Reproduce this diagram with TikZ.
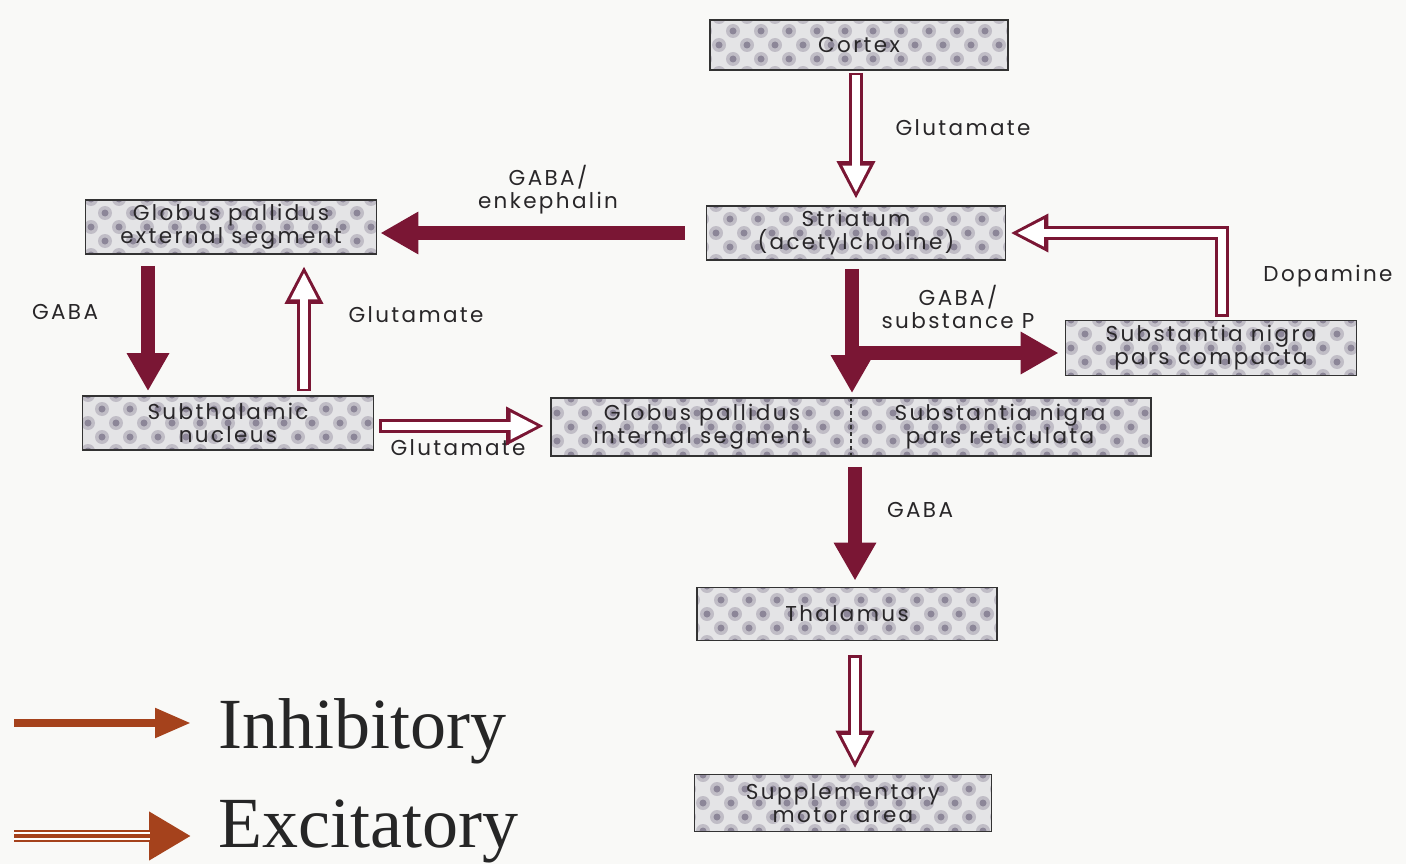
\documentclass[tikz,border=0pt]{standalone}
\usepackage{fontspec}
\setmainfont{Liberation Serif}
\newfontfamily\labfont[LetterSpace=11]{Poppins}
\usetikzlibrary{arrows.meta,calc}
\definecolor{maroon}{RGB}{122,22,52}
\definecolor{rust}{RGB}{165,66,28}
\definecolor{bgc}{RGB}{249,249,247}
\definecolor{boxbg}{RGB}{228,228,230}
\definecolor{blobout}{RGB}{192,189,198}
\definecolor{blobin}{RGB}{140,134,152}
\definecolor{txt}{RGB}{40,38,40}
\begin{document}
\begin{tikzpicture}[x=1pt,y=-1pt,
  lab/.style={font=\labfont\fontsize{21.5}{23}\selectfont, text=txt, align=center, inner sep=0pt},
  box/.style={draw=black!80, line width=1.8pt, fill=boxbg, lab,
    path picture={
      \foreach \j in {-3,...,3}{
        \foreach \i in {-14,...,14}{
          \fill[blobout] ($(path picture bounding box.center)+(\i*28+\j*14,\j*14)$) circle (7pt);
          \fill[blobin] ($(path picture bounding box.center)+(\i*28+\j*14,\j*14)$) circle (3.5pt);
        }}}},
  inh/.style={draw=maroon, line width=14pt, -{Triangle[width=40pt,length=38pt]}},
  excO/.style={draw=maroon, line width=14pt, line join=miter, -{Triangle[width=36pt,length=38pt]}},
  excI/.style={draw=white, line width=8.5pt, line join=miter, -{Triangle[width=25pt,length=27pt]}},
]
\useasboundingbox (0,0) rectangle (1406,864);
\fill[bgc] (0,0) rectangle (1406,864);

% boxes
\node[box, minimum width=298pt, minimum height=50pt] (ctx) at (859,45) {Cortex};
\node[box, minimum width=299pt, minimum height=54pt] (str) at (856,233) {Striatum\\(acetylcholine)};
\node[box, minimum width=291pt, minimum height=54pt] (gpe) at (231,227) {Globus pallidus\\external segment};
\node[box, minimum width=291pt, minimum height=54pt] (stn) at (228,423) {Subthalamic\\nucleus};
\node[box, minimum width=600pt, minimum height=58pt] (gpsn) at (851,427) {};
\node[lab] (gpi) at (702,427) {Globus pallidus\\internal segment};
\node[lab] (snr) at (1000,427) {Substantia nigra\\pars reticulata};
\draw[black!80, line width=1.2pt, dash pattern=on 4pt off 3pt] (gpsn.north) -- (gpsn.south);
\node[box, minimum width=291pt, minimum height=55pt] (snc) at (1211,348) {Substantia nigra\\pars compacta};
\node[box, minimum width=300pt, minimum height=53pt] (thal) at (847,614) {Thalamus};
\node[box, minimum width=297pt, minimum height=57pt] (sma) at (843,803) {Supplementary\\motor area};

% labels
\node[lab] (lglu1) at (963,128) {Glutamate};
\node[lab] (lenk) at (548,190) {GABA/\\enkephalin};
\node[lab] (lgaba1) at (65,312) {GABA};
\node[lab] (lglu2) at (416,315) {Glutamate};
\node[lab] (lglu3) at (458,448) {Glutamate};
\node[lab] (lsubp) at (958,307) {GABA/\\substance P};
\node[lab] (ldopa) at (1328,276) {Dopamine};
\node[lab] (lgaba2) at (920,510) {GABA};

% excitatory (hollow) arrows
\draw[excO, shorten <=2pt, shorten >=6pt] (ctx.south -| str.north) -- (str.north);
\draw[excI, shorten <=4.5pt, shorten >=12.5pt] (ctx.south -| str.north) -- (str.north);

\draw[excO, shorten <=4pt, shorten >=11pt] ([xshift=76pt]stn.north) -- ([xshift=76pt]stn.north |- gpe.south);
\draw[excI, shorten <=6.5pt, shorten >=17.5pt] ([xshift=76pt]stn.north) -- ([xshift=76pt]stn.north |- gpe.south);

\draw[excO, shorten <=5pt, shorten >=6pt] ([yshift=-3pt]stn.east) -- ([yshift=-3pt]stn.east -| gpsn.west);
\draw[excI, shorten <=7.5pt, shorten >=12.5pt] ([yshift=-3pt]stn.east) -- ([yshift=-3pt]stn.east -| gpsn.west);

\draw[excO, shorten <=3pt, shorten >=4pt] ([xshift=11pt]snc.north) |- (str.east);
\draw[excI, shorten <=5.5pt, shorten >=10.5pt] ([xshift=11pt]snc.north) |- (str.east);

\draw[excO, shorten <=14pt, shorten >=5pt] ([xshift=8pt]thal.south) -- ([xshift=8pt]thal.south |- sma.north);
\draw[excI, shorten <=16.5pt, shorten >=11.5pt] ([xshift=8pt]thal.south) -- ([xshift=8pt]thal.south |- sma.north);

% inhibitory (filled) arrows
\draw[inh, shorten <=21pt, shorten >=3pt] (str.west) -- (str.west -| gpe.east);
\draw[inh, shorten <=11pt, shorten >=4pt] ([xshift=-83pt]gpe.south) -- ([xshift=-83pt]gpe.south |- stn.north);
\draw[inh, shorten <=8pt, shorten >=4pt] ([xshift=-4pt]str.south) -- ([xshift=-4pt]str.south |- gpsn.north);
\coordinate (br) at (852,353);
\draw[inh, shorten <=-7pt, shorten >=6pt] (br) -- (br -| snc.west);
\draw[inh, shorten <=10pt, shorten >=6pt] ([xshift=4pt]gpsn.south) -- ([xshift=4pt]gpsn.south |- thal.north);

% legend
\node[anchor=base west, font=\fontsize{72}{72}\selectfont, text=black!85, inner sep=0pt] (inhtxt) at (218,748) {Inhibitory};
\node[anchor=base west, font=\fontsize{72}{72}\selectfont, text=black!85, inner sep=0pt] (exctxt) at (218,847) {Excitatory};
\coordinate (li1) at (14,723);
\coordinate (li2) at (191,723);
\draw[rust, line width=8pt, -{Triangle[width=28pt,length=36pt]}] (li1) -- (li2);
\coordinate (le1) at (14,836);
\coordinate (le2) at (191,836);
\draw[rust, line width=12pt, -{Triangle[width=46pt,length=42pt]}] (le1) -- (le2);
\draw[white, line width=7.5pt, shorten >=41pt] (le1) -- (le2);
\draw[rust, line width=3.2pt, shorten >=41pt] (le1) -- (le2);
\end{tikzpicture}
\end{document}
